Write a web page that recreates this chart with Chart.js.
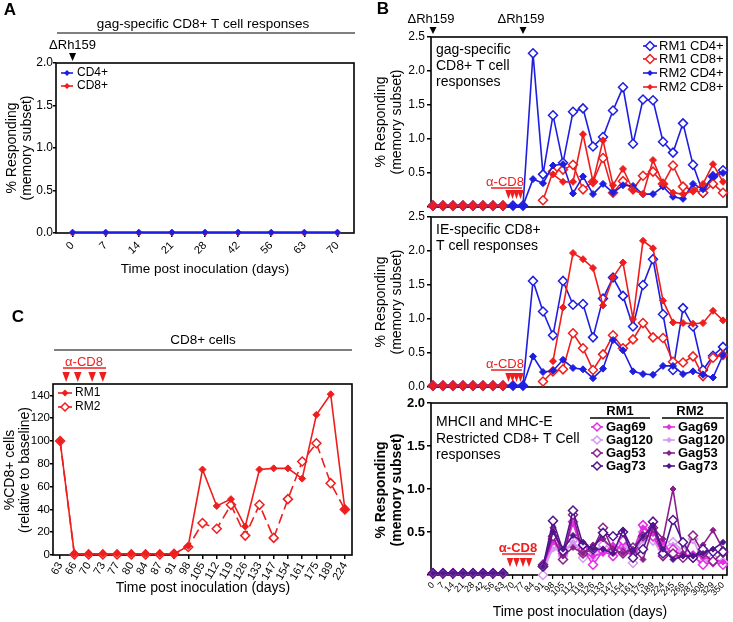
<!DOCTYPE html>
<html><head><meta charset="utf-8">
<script src="https://cdn.jsdelivr.net/npm/chart.js"></script>
<style>
html,body{margin:0;padding:0;background:#fff;}
#wrap{position:relative;width:733px;height:622px;overflow:hidden;background:#fff;}
canvas{position:absolute;left:0;top:0;}
</style></head><body>
<div id="wrap">
<canvas id="cA" width="733" height="622"></canvas>
<canvas id="cB1" width="733" height="622"></canvas>
<canvas id="cB2" width="733" height="622"></canvas>
<canvas id="cB3" width="733" height="622"></canvas>
<canvas id="cC" width="733" height="622"></canvas>
</div>
<script>
const FONT = "'Liberation Sans', Arial, Helvetica, sans-serif";
const BLUE = 'rgb(30,30,225)';
const RED = 'rgb(238,30,30)';
const C69 = 'rgb(228,45,228)', C120 = 'rgb(214,152,240)', C53 = 'rgb(140,30,140)', C73 = 'rgb(80,20,140)';

// ---------- Panel A ----------
const A_days = ['0','7','14','21','28','42','56','63','70'];
const A_CD4 = [0.01,0.01,0.01,0.01,0.01,0.01,0.01,0.01,0.01];
const A_CD8 = [0.0,0.0,0.0,0.0,0.0,0.0,0.0,0.0,0.0];

// ---------- Panel B (shared x categories) ----------
const B_days = ['0','7','14','21','28','42','56','63','70','77','84','91','98','105','112','119','126','133','147','154','161','175','189','224','245','266','287','308','329','350'];

// gag-specific
const gag_RM1_CD4 = [0.02,0.02,0.02,0.02,0.02,0.02,0.02,0.02,0.02,0.02,2.26,0.48,1.35,0.65,1.40,1.45,0.89,1.03,1.42,1.76,0.93,1.58,1.57,0.96,0.80,1.23,0.62,0.21,0.45,0.54];
const gag_RM1_CD8 = [0.02,0.02,0.02,0.02,0.02,0.02,0.02,0.02,null,null,null,0.10,0.52,0.55,0.62,0.26,0.37,0.72,0.21,0.38,0.26,0.46,0.52,0.34,0.61,0.30,0.25,0.21,0.34,0.21];
const gag_RM2_CD4 = [0.02,0.02,0.02,0.02,0.02,0.02,0.02,0.02,0.02,0.02,0.41,0.35,0.61,0.63,0.20,0.45,0.19,0.34,0.21,0.32,0.31,0.19,0.19,0.30,0.15,0.12,0.34,0.26,0.45,0.50];
const gag_RM2_CD8 = [0.02,0.02,0.02,0.02,0.02,0.02,0.02,0.02,null,null,null,null,0.48,0.37,0.37,1.07,0.37,0.98,0.32,0.56,0.25,0.19,0.69,0.34,0.21,0.19,0.24,0.34,0.63,0.37];

// IE-specific
const ie_RM1_CD4 = [0.02,0.02,0.02,0.02,0.02,0.02,0.02,0.02,0.02,0.02,1.56,1.11,0.76,1.56,1.21,1.22,0.73,1.30,1.61,1.34,0.89,1.50,1.88,1.07,0.25,1.16,0.89,0.25,0.46,0.59];
const ie_RM1_CD8 = [0.02,0.02,0.02,0.02,0.02,0.02,0.02,0.02,null,null,null,0.08,0.23,0.26,0.79,0.57,0.25,0.48,0.76,0.57,0.70,0.94,0.73,0.72,0.37,0.36,0.45,0.16,0.43,0.47];
const ie_RM2_CD4 = [0.02,0.02,0.02,0.02,0.02,0.02,0.02,0.02,0.02,0.02,0.45,0.22,0.24,0.40,0.28,0.26,0.13,0.27,0.69,0.54,0.23,0.19,0.18,0.31,0.31,0.19,0.23,0.18,0.14,0.47];
const ie_RM2_CD8 = [0.02,0.02,0.02,0.02,0.02,0.02,0.02,0.02,null,null,null,null,0.38,1.17,1.97,1.88,1.75,1.20,1.61,1.83,1.00,2.15,2.04,1.27,0.95,0.94,0.93,0.94,1.12,0.98];

// MHCII / MHC-E restricted
const RM1_Gag69  = [0.02,0.02,0.02,0.02,0.02,0.02,0.02,0.02,null,null,null,0.10,0.42,0.25,0.62,0.30,0.12,0.28,0.22,0.40,0.28,0.58,0.45,0.25,0.30,0.22,0.22,0.12,0.15,0.12];
const RM1_Gag120 = [0.02,0.02,0.02,0.02,0.02,0.02,0.02,0.02,null,null,null,0.00,0.35,0.22,0.40,0.20,0.28,0.35,0.30,0.42,0.14,0.50,0.40,0.30,0.38,0.28,0.42,0.15,0.20,0.15];
const RM1_Gag53  = [0.02,0.02,0.02,0.02,0.02,0.02,0.02,0.02,null,null,null,0.12,0.45,0.18,0.70,0.25,0.30,0.55,0.28,0.25,0.32,0.45,0.55,0.22,0.25,0.20,0.46,0.25,0.16,0.26];
const RM1_Gag73  = [0.02,0.02,0.02,0.02,0.02,0.02,0.02,0.02,null,null,null,0.10,0.63,0.28,0.75,0.35,0.30,0.49,0.45,0.50,0.20,0.30,0.62,0.25,0.64,0.38,0.20,0.30,0.27,0.27];
const RM2_Gag69  = [0.02,0.02,0.02,0.02,0.02,0.02,0.02,0.02,null,null,null,0.10,0.38,0.25,0.60,0.25,0.22,0.25,0.35,0.30,0.22,0.55,0.48,0.38,0.22,0.20,0.25,0.20,0.18,0.15];
const RM2_Gag120 = [0.02,0.02,0.02,0.02,0.02,0.02,0.02,0.02,null,null,null,0.08,0.30,0.28,0.38,0.28,0.20,0.30,0.25,0.35,0.25,0.40,0.42,0.20,0.35,0.25,0.22,0.22,0.15,0.12];
const RM2_Gag53  = [0.02,0.02,0.02,0.02,0.02,0.02,0.02,0.02,null,null,null,0.10,0.55,0.22,0.32,0.25,0.35,0.42,0.30,0.25,0.30,0.18,0.55,0.42,1.00,0.25,0.18,0.35,0.52,0.30];
const RM2_Gag73  = [0.02,0.02,0.02,0.02,0.02,0.02,0.02,0.02,null,null,null,0.10,0.50,0.30,0.46,0.38,0.30,0.30,0.25,0.52,0.28,0.45,0.58,0.30,0.18,0.22,0.22,0.25,0.30,0.38];

// ---------- Panel C ----------
const C_days = ['63','66','70','73','77','80','84','87','91','98','105','112','119','126','133','147','154','161','175','189','224'];
const C_RM1 = [100,1,1,1,1,1,1,1,1,8,75,43,49,25,75,76,76,67,123,141,40];
const C_RM2 = [100,0.5,0.5,0.5,0.5,0.5,0.5,0.5,1,7,28,23,44,17,44,15,49,82,98,63,40];

// annotation positions in x-index units
const B_rhIdx = [0, 9];
const B_aCD8 = [7.55, 7.95, 8.35, 8.75];
const B3_aCD8 = [7.7, 8.35, 9.0, 9.6];
const C_aCD8 = [0.42, 1.24, 2.25, 3.0];

// ---------- helpers ----------
Chart.defaults.font.family = FONT;
Chart.defaults.color = '#000';
function fixY(w){return s=>{s.width=w;s.paddingTop=0;s.paddingBottom=0;s.paddingLeft=0;s.paddingRight=0;};}
function fixX(h){return s=>{s.height=h;s.paddingTop=0;s.paddingBottom=0;s.paddingLeft=0;s.paddingRight=0;};}
function xy(arr){return arr.map((v,i)=>({x:i,y:v}));}
function ds(label,data,color,open,extra){
  return Object.assign({label,data,borderColor:color,backgroundColor:open?'#fff':color,
    pointBackgroundColor:open?'#fff':color,pointBorderColor:color,pointStyle:'rectRot',
    pointRadius:open?4.5:3,pointBorderWidth:open?1.5:1,borderWidth:1.6,clip:false,tension:0,fill:false},extra||{});
}
function baseOpts(L,T,R,B,yW,xH){
  return {responsive:false,animation:false,events:[],devicePixelRatio:1,
    layout:{autoPadding:false,padding:{left:L-yW,top:T,right:733-R,bottom:622-B-xH}},
    plugins:{legend:{display:false},tooltip:{enabled:false}},scales:{}};
}
function yScale(min,max,step,size,hideZero,bold,dec,pad,tl){
  return {type:'linear',min,max,position:'left',afterFit:fixY(30),border:{display:false},
    grid:{drawOnChartArea:false,drawTicks:true,tickLength:tl==null?4:tl,color:'#000',lineWidth:1.5},
    ticks:{stepSize:step,includeBounds:false,padding:pad==null?2:pad,color:'#000',font:{family:FONT,size,weight:bold?'bold':'normal'},
      callback:v=>(hideZero&&v===0)?'':(dec?v.toFixed(1):String(v))}};
}
function txt(ctx,s,x,y,font,color,align,rot){
  ctx.save();ctx.font=font;ctx.fillStyle=color||'#000';ctx.textAlign=align||'center';ctx.textBaseline='middle';
  ctx.translate(x,y);if(rot)ctx.rotate(rot);ctx.fillText(s,0,0);ctx.restore();
}
function tri(ctx,x,yTop,w,h,color){
  ctx.save();ctx.beginPath();ctx.moveTo(x-w/2,yTop);ctx.lineTo(x+w/2,yTop);ctx.lineTo(x,yTop+h);ctx.closePath();
  ctx.fillStyle=color;ctx.fill();ctx.restore();
}
function hline(ctx,x1,x2,y,color,w){
  ctx.save();ctx.strokeStyle=color;ctx.lineWidth=w||1.5;ctx.beginPath();ctx.moveTo(x1,y);ctx.lineTo(x2,y);ctx.stroke();ctx.restore();
}
function diamond(ctx,x,y,r,color,open){
  ctx.save();ctx.beginPath();ctx.moveTo(x,y-r);ctx.lineTo(x+r,y);ctx.lineTo(x,y+r);ctx.lineTo(x-r,y);ctx.closePath();
  if(open){ctx.fillStyle='#fff';ctx.fill();ctx.lineWidth=1.5;ctx.strokeStyle=color;ctx.stroke();}
  else{ctx.fillStyle=color;ctx.fill();}
  ctx.restore();
}
function legendItem(ctx,cx,y,half,color,open,r,label,tx,font,dash){
  ctx.save();ctx.strokeStyle=color;ctx.lineWidth=1.6;if(dash)ctx.setLineDash(dash);
  ctx.beginPath();ctx.moveTo(cx-half,y);ctx.lineTo(cx+half,y);ctx.stroke();ctx.restore();
  diamond(ctx,cx,y,r,color,open);
  txt(ctx,label,tx,y,font,'#000','left');
}
const boxPlugin = {id:'box',beforeDatasetsDraw(chart){
  const {ctx,chartArea:a}=chart;ctx.save();ctx.strokeStyle='#000';ctx.lineWidth=1.6;
  ctx.strokeRect(a.left,a.top,a.right-a.left,a.bottom-a.top);ctx.restore();}};
const F = (s,b)=>(b?'bold ':'')+s+'px '+FONT;
const ROT = -Math.PI/2;

// ---------- Chart A ----------
(function(){
  const o = baseOpts(56,63,354,233,30,30);
  o.scales.y = yScale(0,2,0.5,12,false,false,true,0,3);
  o.scales.x = {type:'category',offset:true,afterFit:fixX(30),border:{display:false},
    grid:{offset:false,drawOnChartArea:false,tickLength:4,color:'#000',lineWidth:1.5},
    ticks:{autoSkip:false,maxRotation:45,minRotation:45,padding:2,font:{size:11}}};
  new Chart(document.getElementById('cA'),{type:'line',
    data:{labels:A_days,datasets:[ds('CD4+',A_CD4,BLUE,false),ds('CD8+',A_CD8,RED,false)]},
    options:o,
    plugins:[boxPlugin,{id:'annA',afterDraw(chart){
      const ctx=chart.ctx;const x0=chart.scales.x.getPixelForValue(0);
      txt(ctx,'A',10,10,F(17,true));
      txt(ctx,'gag-specific CD8+ T cell responses',203,24,F(13.5));
      hline(ctx,57,355,33,'#555',1.5);
      txt(ctx,'\u0394Rh159',x0,45,F(13));
      tri(ctx,x0,53,7,8,'#000');
      txt(ctx,'% Responding',12,148,F(14),'#000','center',ROT);
      txt(ctx,'(memory subset)',27,148,F(14),'#000','center',ROT);
      txt(ctx,'Time post inoculation (days)',205,269,F(13.5));
      legendItem(ctx,67,73,6,BLUE,false,3,'CD4+',77,F(12));
      legendItem(ctx,67,86,6,RED,false,3,'CD8+',77,F(12));
    }}]});
})();

// ---------- Panel B helper ----------
function bX(showTicks){
  if(!showTicks) return {type:'linear',min:-0.2,max:29.4,display:false};
  return {type:'linear',min:-0.2,max:29.4,afterFit:fixX(30),border:{display:false},
    grid:{drawOnChartArea:false,tickLength:4,color:'#000',lineWidth:1.2},
    ticks:{stepSize:1,includeBounds:false,autoSkip:false,maxRotation:45,minRotation:45,padding:1,font:{size:9},
      callback:v=>(Number.isInteger(v)&&B_days[v]!==undefined)?B_days[v]:''}};
}
function aCD8(ctx,chart,idxs,cx,ly,x1,x2,uy,ty,bold){
  txt(ctx,'\u03b1-CD8',cx,ly,F(13,bold),RED);
  hline(ctx,x1,x2,uy,RED,1.5);
  idxs.forEach(i=>tri(ctx,chart.scales.x.getPixelForValue(i),ty,6.5,9,RED));
}

// ---------- Chart B1 (gag) ----------
(function(){
  const o = baseOpts(431,37,727,207,30,0);
  o.scales.y = yScale(0,2.5,0.5,12,true,false,true);
  o.scales.x = bX(false);
  new Chart(document.getElementById('cB1'),{type:'line',
    data:{datasets:[
      ds('RM2 CD8+',xy(gag_RM2_CD8),RED,false,{pointRadius:3.5}),
      ds('RM2 CD4+',xy(gag_RM2_CD4),BLUE,false,{pointRadius:3.5}),
      ds('RM1 CD8+',xy(gag_RM1_CD8),RED,true),
      ds('RM1 CD4+',xy(gag_RM1_CD4),BLUE,true)]},
    options:o,
    plugins:[boxPlugin,{id:'annB1',afterDraw(chart){
      const ctx=chart.ctx;
      txt(ctx,'B',383,9,F(17,true));
      B_rhIdx.forEach(i=>{const x=chart.scales.x.getPixelForValue(i);
        txt(ctx,'\u0394Rh159',x-2,19,F(13));tri(ctx,x,27,7,7,'#000');});
      txt(ctx,'gag-specific',436,50,F(14),'#000','left');
      txt(ctx,'CD8+ T cell',436,66,F(14),'#000','left');
      txt(ctx,'responses',436,82,F(14),'#000','left');
      legendItem(ctx,650,46,7,BLUE,true,4.5,'RM1 CD4+',659,F(13));
      legendItem(ctx,650,59,7,RED,true,4.5,'RM1 CD8+',659,F(13));
      legendItem(ctx,650,73,7,BLUE,false,3,'RM2 CD4+',659,F(13));
      legendItem(ctx,650,87,7,RED,false,3,'RM2 CD8+',659,F(13));
      aCD8(ctx,chart,B_aCD8,505,182,491,522,188,190,false);
      txt(ctx,'% Responding',381,122,F(14),'#000','center',ROT);
      txt(ctx,'(memory subset)',397,122,F(14),'#000','center',ROT);
    }}]});
})();

// ---------- Chart B2 (IE) ----------
(function(){
  const o = baseOpts(431,217,727,387,30,0);
  o.scales.y = yScale(0,2.5,0.5,12,false,false,true);
  o.scales.x = bX(false);
  new Chart(document.getElementById('cB2'),{type:'line',
    data:{datasets:[
      ds('RM2 CD8+',xy(ie_RM2_CD8),RED,false,{pointRadius:3.5}),
      ds('RM2 CD4+',xy(ie_RM2_CD4),BLUE,false,{pointRadius:3.5}),
      ds('RM1 CD8+',xy(ie_RM1_CD8),RED,true),
      ds('RM1 CD4+',xy(ie_RM1_CD4),BLUE,true)]},
    options:o,
    plugins:[boxPlugin,{id:'annB2',afterDraw(chart){
      const ctx=chart.ctx;
      txt(ctx,'IE-specific CD8+',436,230,F(14),'#000','left');
      txt(ctx,'T cell responses',436,246,F(14),'#000','left');
      aCD8(ctx,chart,B_aCD8,505,364,491,522,370,373,false);
      txt(ctx,'% Responding',381,302,F(14),'#000','center',ROT);
      txt(ctx,'(memory subset)',397,302,F(14),'#000','center',ROT);
    }}]});
})();

// ---------- Chart B3 (MHCII / MHC-E) ----------
(function(){
  const o = baseOpts(431,403,727,575,30,30);
  o.scales.y = yScale(0,2,0.5,13,true,true,true);
  o.scales.x = bX(true);
  new Chart(document.getElementById('cB3'),{type:'line',
    data:{datasets:[
      ds('RM2 Gag73',xy(RM2_Gag73),C73,false),
      ds('RM1 Gag73',xy(RM1_Gag73),C73,true),
      ds('RM2 Gag53',xy(RM2_Gag53),C53,false),
      ds('RM1 Gag53',xy(RM1_Gag53),C53,true),
      ds('RM2 Gag69',xy(RM2_Gag69),C69,false),
      ds('RM1 Gag69',xy(RM1_Gag69),C69,true),
      ds('RM2 Gag120',xy(RM2_Gag120),C120,false),
      ds('RM1 Gag120',xy(RM1_Gag120),C120,true)]},
    options:o,
    plugins:[boxPlugin,{id:'annB3',afterDraw(chart){
      const ctx=chart.ctx;
      txt(ctx,'MHCII and MHC-E',436,422,F(14),'#000','left');
      txt(ctx,'Restricted CD8+ T Cell',436,439,F(14),'#000','left');
      txt(ctx,'responses',436,455,F(14),'#000','left');
      txt(ctx,'RM1',620,411,F(13,true));hline(ctx,590,650,418,'#000',1.5);
      txt(ctx,'RM2',690,411,F(13,true));hline(ctx,662,724,418,'#000',1.5);
      const rows=[['Gag69',C69,427],['Gag120',C120,440],['Gag53',C53,453],['Gag73',C73,466]];
      rows.forEach(r=>{
        legendItem(ctx,597,r[2],6,r[1],true,4,r[0],606,F(13,true));
        legendItem(ctx,669,r[2],6,r[1],false,3,r[0],678,F(13,true));
      });
      aCD8(ctx,chart,B3_aCD8,518,548,502,535,554,558,true);
      txt(ctx,'% Responding',381,490,F(14,true),'#000','center',ROT);
      txt(ctx,'(memory subset)',397,490,F(14,true),'#000','center',ROT);
      txt(ctx,'Time post inoculation (days)',580,612,F(14));
    }}]});
})();

// ---------- Chart C ----------
(function(){
  const o = baseOpts(53,384,352,555,30,30);
  o.scales.y = yScale(0,150,20,11.5,false,false,false,0,3);
  o.scales.x = {type:'category',offset:true,afterFit:fixX(30),border:{display:false},
    grid:{offset:false,drawOnChartArea:false,tickLength:4,color:'#000',lineWidth:1.5},
    ticks:{autoSkip:false,maxRotation:60,minRotation:60,padding:1,font:{size:11}}};
  new Chart(document.getElementById('cC'),{type:'line',
    data:{labels:C_days,datasets:[
      ds('RM1',C_RM1,RED,false,{pointRadius:3.5}),
      ds('RM2',C_RM2,RED,true,{borderDash:[10,5]})]},
    options:o,
    plugins:[boxPlugin,{id:'annC',afterDraw(chart){
      const ctx=chart.ctx;
      txt(ctx,'C',18,317,F(17,true));
      txt(ctx,'CD8+ cells',203,340,F(13.5));
      hline(ctx,54,352,350,'#555',1.5);
      txt(ctx,'\u03b1-CD8',84,362,F(13),RED);
      hline(ctx,63,106,368,RED,1.5);
      C_aCD8.forEach(i=>tri(ctx,chart.scales.x.getPixelForValue(i),372,7.5,10,RED));
      legendItem(ctx,65,393,7,RED,false,3.5,'RM1',75,F(12));
      legendItem(ctx,65,407,7,RED,true,4,'RM2',75,F(12));
      txt(ctx,'%CD8+ cells',10,470,F(14),'#000','center',ROT);
      txt(ctx,'(relative to baseline)',25,470,F(14),'#000','center',ROT);
      txt(ctx,'Time post inoculation (days)',203,588,F(14));
    }}]});
})();
</script>
</body></html>
